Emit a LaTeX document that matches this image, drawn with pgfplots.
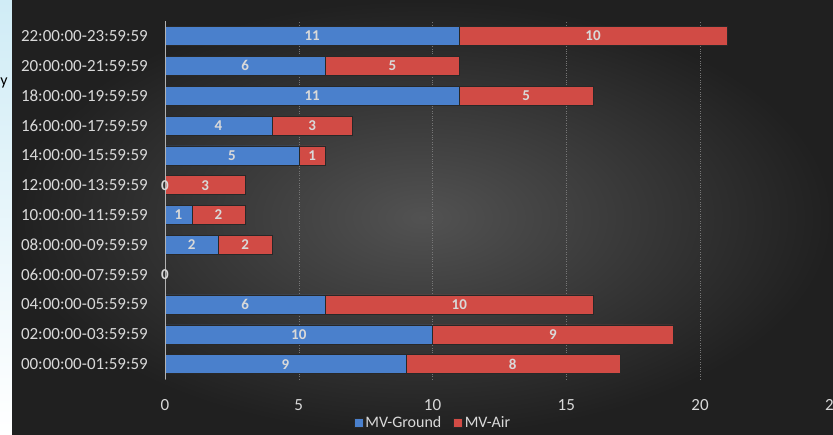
\documentclass[border=0pt]{standalone}
\usepackage{fontspec}
\setmainfont{Carlito}
\usepackage{pgfplots}
\pgfplotsset{compat=1.18}

\definecolor{barblue}{RGB}{74,128,204}
\definecolor{barred}{RGB}{209,75,69}
\definecolor{baredge}{RGB}{40,40,40}
\definecolor{txtgray}{RGB}{217,217,217}
\definecolor{bgmid}{RGB}{82,82,82}
\definecolor{bgedge}{RGB}{32,32,32}

\begin{document}
\begin{tikzpicture}[x=1bp,y=1bp]
\useasboundingbox (0,0) rectangle (833,435);
\clip (0,0) rectangle (833,435);
% background of the slide
\shade[top color={rgb,255:red,208;green,236;blue,246}, bottom color=white] (0,0) rectangle (12,435);
\shade[inner color=bgmid, outer color=bgedge] (12,0) rectangle (833,435);
\node[anchor=center, font=\fontsize{16bp}{18bp}\selectfont, text=black] at (4,352) {y};

\begin{axis}[
    at={(165bp,56bp)}, anchor=south west,
    scale only axis,
    width=668.75bp, height=357.8bp,
    clip=false,
    xbar stacked,
    bar width=19bp,
    xmin=0, xmax=25,
    ymin=-0.5, ymax=11.5,
    xtick={0,5,10,15,20,25},
    ytick={0,...,11},
    yticklabels={00:00:00-01:59:59,02:00:00-03:59:59,04:00:00-05:59:59,
        06:00:00-07:59:59,08:00:00-09:59:59,10:00:00-11:59:59,
        12:00:00-13:59:59,14:00:00-15:59:59,16:00:00-17:59:59,
        18:00:00-19:59:59,20:00:00-21:59:59,22:00:00-23:59:59},
    axis line style={draw=none},
    major tick length=0pt,
    xmajorgrids,
    grid style={dotted, color={rgb,255:red,118;green,118;blue,118}, line width=0.5pt},
    /pgf/number format/assume math mode=true,
    ticklabel style={font=\fontsize{17bp}{20bp}\selectfont, text=txtgray},
    xticklabel style={anchor=center, yshift=-26bp},
    yticklabel style={anchor=east, inner sep=0pt, xshift=-17bp},
    point meta=rawx,
    nodes near coords,
    every node near coord/.append style={anchor=center,
        font=\bfseries\fontsize{15bp}{17bp}\selectfont, text=txtgray},
    legend style={at={(0.4008,-0.123)}, anchor=center, draw=none, fill=none,
        text=txtgray, font=\fontsize{16bp}{18bp}\selectfont,
        legend columns=2, /tikz/every even column/.append style={column sep=10bp}},
    legend image code/.code={\fill[#1] (0bp,-4.5bp) rectangle (9bp,4.5bp);},
]
\draw[color=gray!60, line width=0.6pt] (axis cs:0,-0.5) -- (axis cs:0,11.5);
\addplot[draw=baredge, line width=0.5pt, fill=barblue]
    coordinates {(9,0) (10,1) (6,2) (0,3) (2,4) (1,5) (0,6) (5,7) (4,8) (11,9) (6,10) (11,11)};
\addplot[draw=baredge, line width=0.5pt, fill=barred]
    coordinates {(8,0) (9,1) (10,2) (0,3) (2,4) (2,5) (3,6) (1,7) (3,8) (5,9) (5,10) (10,11)};
\legend{MV-Ground, MV-Air}
\coordinate (zero06) at (axis cs:0,3);
\coordinate (zero12) at (axis cs:0,6);
\end{axis}
% zero-valued segments get their labels at the axis, above the bars
\node[anchor=center, font=\bfseries\fontsize{15bp}{17bp}\selectfont, text=txtgray] at (zero06) {0};
\node[anchor=center, font=\bfseries\fontsize{15bp}{17bp}\selectfont, text=txtgray] at (zero12) {0};
\end{tikzpicture}
\end{document}
